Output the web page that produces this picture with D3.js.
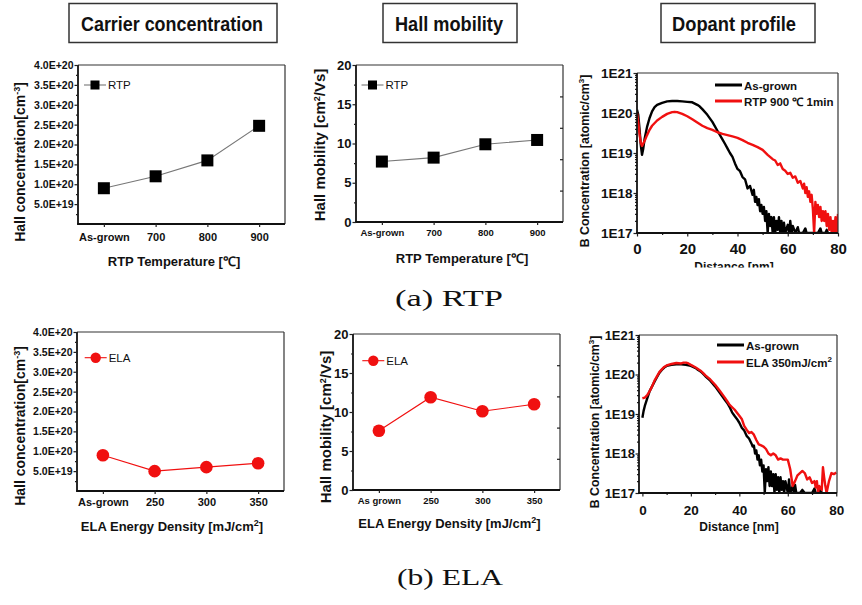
<!DOCTYPE html>
<html><head><meta charset="utf-8">
<script src="https://cdnjs.cloudflare.com/ajax/libs/d3/7.8.5/d3.min.js"></script>
<style>body{margin:0;background:#fff}svg{display:block}text{font-family:"Liberation Sans",Arial,sans-serif;fill:#111}</style>
</head><body><svg id="c" width="862" height="605"></svg>
<script>
// ---------- DATA ----------
const rtpCats = ["As-grown", "700", "800", "900"];
const rtpConc = [0.9e20, 1.2e20, 1.6e20, 2.47e20];
const rtpMob = [7.7, 8.2, 9.9, 10.45];
const elaCats = ["As-grown", "250", "300", "350"];
const elaCatsMob = ["As grown", "250", "300", "350"];
const elaConc = [0.9e20, 0.5e20, 0.6e20, 0.7e20];
const elaMob = [7.6, 11.9, 10.1, 11.0];

const concTicks = [5e19, 1e20, 1.5e20, 2e20, 2.5e20, 3e20, 3.5e20, 4e20];
const concTickLabels = ["5.0E+19", "1.0E+20", "1.5E+20", "2.0E+20", "2.5E+20", "3.0E+20", "3.5E+20", "4.0E+20"];
const concMinor = [2.5e19, 7.5e19, 1.25e20, 1.75e20, 2.25e20, 2.75e20, 3.25e20, 3.75e20];
const mobTicks = [0, 5, 10, 15, 20];
const mobMinor = [2.5, 7.5, 12.5, 17.5];
const mobRightTicks = [4, 8, 12, 16];
const depthTicks = [0, 20, 40, 60, 80];
const depthMinor = [10, 30, 50, 70];
const logTicks = [1e17, 1e18, 1e19, 1e20, 1e21];
const logTickLabels = ["1E17", "1E18", "1E19", "1E20", "1E21"];

const simsRtpAsGrown = [[0,1.2e20],[0.5,9e19],[1,4e19],[1.5,1.6e19],[2,9e18],[2.5,1.3e19],[3,2.2e19],[4,4.5e19],[5,7.5e19],[6,1.1e20],[7,1.4e20],[8,1.6e20],[10,1.8e20],[12,1.95e20],[14,2e20],[16,2e20],[18,1.95e20],[20,1.9e20],[22,1.85e20],[24,1.6e20],[25,1.45e20],[26,1.25e20],[28,9e19],[30,6e19],[32,3.6e19],[34,2.2e19],[35,1.7e19],[36,1.3e19],[37,1e19],[38,8e18],[39,5.5e18],[40,4e18],[41,3.5e18],[42,2.5e18],[43,2.2e18],[44,1.3e18],[45,1.5e18],[46,9e17],[46.5,1.2e18],[47,6e17],[47.5,8e17],[48,5e17],[48.5,7e17],[49,3.5e17],[49.5,5e17],[50,3e17],[50.5,4.5e17],[51,2e17],[51.5,3.5e17],[52,1e17],[52.5,3e17],[53,1.5e17],[53.5,2.5e17],[54,1e17],[54.5,2.5e17],[55,1e17],[55.5,2e17],[56,1.2e17],[56.5,2.5e17],[57,1e17],[57.5,2e17],[58,1e17],[58.5,1.8e17],[59,1e17],[60,1.6e17],[60.5,1e17],[61,2e17],[61.5,1e17],[62,1.5e17],[63,1e17],[64,1.4e17],[64.5,1e17],[66,1e17],[67,1.3e17],[67.5,1e17],[70,1e17],[72,1e17],[73,1.3e17],[73.5,1e17],[75,1e17],[75.5,1.2e17],[76,1e17]];
const simsRtp900 = [[0,1e20],[0.5,6e19],[1,3e19],[1.5,1.8e19],[2,1.5e19],[3,2e19],[4,2.8e19],[5,3.8e19],[6,4.8e19],[8,6.5e19],[10,8e19],[12,9.5e19],[14,1.05e20],[15,1.07e20],[16,1.05e20],[18,9.5e19],[20,8.3e19],[22,7e19],[24,5.8e19],[26,4.8e19],[28,4.2e19],[30,3.8e19],[32,3.3e19],[34,3e19],[36,2.8e19],[38,2.6e19],[40,2.4e19],[42,2.1e19],[44,1.8e19],[46,1.6e19],[48,1.4e19],[50,1.2e19],[52,9e18],[54,7e18],[55,6.5e18],[56,5e18],[57,5.5e18],[58,4e18],[59,3.6e18],[60,3e18],[61,3.2e18],[62,2.4e18],[63,2.6e18],[64,1.8e18],[65,2e18],[66,1.3e18],[66.5,1.7e18],[67,1e18],[67.5,1.4e18],[68,8e17],[68.5,1.1e18],[69,6e17],[69.5,9e17],[70,4e17],[70.5,1e17],[71,6e17],[71.5,3e17],[72,5e17],[72.5,2.5e17],[73,4.5e17],[73.5,2e17],[74,3.5e17],[74.5,2e17],[75,3.5e17],[75.5,1.5e17],[76,3e17],[76.5,1.2e17],[77,2.5e17],[77.5,1e17],[78,2e17],[78.5,1e17],[79,2.5e17],[79.5,1e17],[80,3e17]];
const simsElaAsGrown = [[0,8e18],[0.5,1.2e19],[1,1.6e19],[2,2.5e19],[3,3.8e19],[4,5e19],[5,6.6e19],[6,8.5e19],[7,1.1e20],[8,1.3e20],[9,1.5e20],[10,1.65e20],[12,1.75e20],[14,1.8e20],[16,1.8e20],[18,1.75e20],[20,1.65e20],[22,1.45e20],[23,1.3e20],[24,1.2e20],[25,1.05e20],[26,9e19],[28,7e19],[30,5e19],[32,3.4e19],[34,2.3e19],[35,1.9e19],[36,1.5e19],[37,1.1e19],[38,9e18],[39,7.5e18],[40,6e18],[41,4.5e18],[42,3.8e18],[43,2.8e18],[44,2.4e18],[45,1.8e18],[45.5,1.5e18],[46,1.6e18],[46.5,1e18],[47,1.2e18],[47.5,7e17],[48,9e17],[48.5,5e17],[49,7e17],[49.5,3.5e17],[50,5e17],[50.5,1e17],[51,4e17],[51.5,2e17],[52,4.5e17],[52.5,1.5e17],[53,3.5e17],[53.5,1.5e17],[54,3e17],[54.5,1e17],[55,3e17],[55.5,1.2e17],[56,2.5e17],[56.5,1e17],[57,2.5e17],[57.5,1.2e17],[58,2e17],[58.5,1e17],[59,2e17],[60,1e17],[60.5,2.2e17],[61,1e17],[62,1.5e17],[62.5,1e17],[63,1.6e17],[63.5,1e17],[65,1e17],[66,1.2e17],[67,1e17],[70,1e17],[71,1.3e17],[71.5,1e17],[73,1e17],[73.5,1.3e17],[74,1e17]];
const simsEla350 = [[0,2.5e19],[1,2.6e19],[2,3e19],[3,3.8e19],[4,5e19],[5,7e19],[6,9e19],[7,1.15e20],[8,1.35e20],[9,1.55e20],[10,1.7e20],[12,1.85e20],[14,1.95e20],[16,1.9e20],[17,2e20],[18,2e20],[19,1.9e20],[20,1.75e20],[22,1.5e20],[24,1.25e20],[25,1.1e20],[26,9.5e19],[28,7.5e19],[30,5.5e19],[32,3.8e19],[34,2.6e19],[35,2.1e19],[36,1.7e19],[38,1.3e19],[40,9e18],[41,7.5e18],[42,5e18],[43,4e18],[44,3.3e18],[45,3.5e18],[46,3e18],[47,2.2e18],[48,1.7e18],[49,1.6e18],[50,1.5e18],[51,1.3e18],[52,1e18],[53,9e17],[54,1e18],[55,9e17],[56,7e17],[57,7.5e17],[58,7e17],[59,7e17],[60,7e17],[61,4e17],[62,1.5e17],[63,2e17],[64,2.8e17],[65,3.2e17],[66,3.6e17],[67,3.2e17],[68,2.2e17],[69,2.5e17],[70,1.8e17],[71,2e17],[71.5,1.4e17],[72,2e17],[72.5,1e17],[73,1.5e17],[74,1.2e17],[74.5,4.5e17],[75,2.5e17],[75.5,1.5e17],[76,1e17],[77,2e17],[78,3.2e17],[79,3e17],[80,3.3e17]];

const headers = ["Carrier concentration", "Hall mobility", "Dopant profile"];
const captions = ["(a) RTP", "(b) ELA"];

// ---------- DRAW ----------
const svg = d3.select("#c");
const RED = "#f01010";

function styleAxis(sel, fs, bold) {
  sel.select(".domain").remove();
  sel.selectAll(".tick line").attr("stroke", "#222").attr("stroke-width", 1.2);
  sel.selectAll(".tick text").attr("font-size", fs).attr("font-weight", bold ? "bold" : "normal").attr("fill", "#111")
     .attr("font-family", '"Liberation Sans",Arial,sans-serif');
}

function frame(g, o) {
  g.append("line").attr("x1", o.left).attr("x2", o.right).attr("y1", o.top).attr("y2", o.top).attr("stroke", "#333").attr("stroke-width", 1.2);
  g.append("line").attr("x1", o.right).attr("x2", o.right).attr("y1", o.top).attr("y2", o.bottom).attr("stroke", "#333").attr("stroke-width", 1.2);
  g.append("line").attr("x1", o.left).attr("x2", o.left).attr("y1", o.top).attr("y2", o.bottom + 0.8).attr("stroke", "#111").attr("stroke-width", 1.8);
  g.append("line").attr("x1", o.left - 0.8).attr("x2", o.right).attr("y1", o.bottom).attr("y2", o.bottom).attr("stroke", "#111").attr("stroke-width", 1.8);
}

function rotTitle(g, x, y, html, fs) {
  g.append("text").attr("transform", `translate(${x},${y}) rotate(-90)`).attr("text-anchor", "middle")
    .attr("font-size", fs).attr("font-weight", "bold").html(html);
}

function catPanel(o) {
  const g = svg.append("g");
  const x = d3.scalePoint().domain(o.cats).range([o.left, o.right]).padding(0.5);
  const y = d3.scaleLinear().domain(o.yDomain).range([o.bottom, o.top]);
  frame(g, o);
  g.append("g").attr("transform", `translate(${o.left},0)`)
    .call(d3.axisLeft(y).tickValues(o.yMinor).tickSize(2).tickFormat("")).call(s => styleAxis(s, 10, true));
  g.append("g").attr("transform", `translate(${o.left},0)`)
    .call(d3.axisLeft(y).tickValues(o.yTicks).tickSize(3.5).tickPadding(o.yPad).tickFormat((d, i) => o.yLabels[i]))
    .call(s => styleAxis(s, o.yFs, true));
  if (o.rightTicks) {
    g.append("g").attr("transform", `translate(${o.right},0)`)
      .call(d3.axisRight(y).tickValues(o.rightTicks).tickSize(-3).tickFormat("")).call(s => styleAxis(s, 10, false));
  }
  g.append("g").attr("transform", `translate(0,${o.bottom})`)
    .call(d3.axisBottom(x).tickSize(3).tickPadding(o.xPad)).call(s => styleAxis(s, o.xFs, true));
  const line = d3.line().x((d, i) => x(o.cats[i])).y(d => y(d));
  g.append("path").datum(o.values).attr("d", line).attr("fill", "none").attr("stroke", o.lineColor).attr("stroke-width", 1.1);
  if (o.marker === "square") {
    g.selectAll(".m").data(o.values).join("rect").attr("x", (d, i) => x(o.cats[i]) - 6).attr("y", d => y(d) - 6)
      .attr("width", 12).attr("height", 12).attr("fill", "#000");
  } else {
    g.selectAll(".m").data(o.values).join("circle").attr("cx", (d, i) => x(o.cats[i])).attr("cy", d => y(d))
      .attr("r", 6.3).attr("fill", RED);
  }
  // legend
  const L = o.legend;
  g.append("line").attr("x1", L.x - 11).attr("x2", L.x + 11).attr("y1", L.y).attr("y2", L.y).attr("stroke", o.lineColor).attr("stroke-width", 1.1);
  if (o.marker === "square") {
    g.append("rect").attr("x", L.x - 4.5).attr("y", L.y - 4.5).attr("width", 9).attr("height", 9).attr("fill", "#000");
  } else {
    g.append("circle").attr("cx", L.x).attr("cy", L.y).attr("r", 5.2).attr("fill", RED);
  }
  g.append("text").attr("x", L.x + 13).attr("y", L.y + 4).attr("font-size", 11.5).attr("fill", "#444").text(L.text);
  // titles
  g.append("text").attr("x", o.xTitle[0]).attr("y", o.xTitle[1]).attr("text-anchor", "middle")
    .attr("font-size", o.xTitleFs).attr("font-weight", "bold").html(o.xTitleHtml);
  rotTitle(g, o.yTitle[0], o.yTitle[1], o.yTitleHtml, o.yTitleFs);
}

function profilePanel(o, id) {
  const g = svg.append("g");
  const x = d3.scaleLinear().domain(o.xDomain).range([o.left, o.right]);
  const y = d3.scaleLog().domain([1e17, 1e21]).range([o.bottom, o.top]).clamp(true);
  const minor = [];
  [1e17, 1e18, 1e19, 1e20].forEach(d => { for (let k = 2; k <= 9; k++) minor.push(d * k); });
  g.append("g").attr("transform", `translate(${o.left},0)`)
    .call(d3.axisLeft(y).tickValues(minor).tickSize(2).tickFormat("")).call(s => styleAxis(s, 10, true));
  g.append("g").attr("transform", `translate(${o.left},0)`)
    .call(d3.axisLeft(y).tickValues(logTicks).tickSize(3.5).tickPadding(o.yPad).tickFormat((d, i) => logTickLabels[i]))
    .call(s => styleAxis(s, o.yFs, true));
  g.append("g").attr("transform", `translate(0,${o.bottom})`)
    .call(d3.axisBottom(x).tickValues(depthMinor).tickSize(2).tickFormat("")).call(s => styleAxis(s, 10, true));
  g.append("g").attr("transform", `translate(0,${o.bottom})`)
    .call(d3.axisBottom(x).tickValues(depthTicks).tickSize(3.5).tickPadding(o.xPad).tickFormat(d3.format("d")))
    .call(s => styleAxis(s, o.xFs, true));
  svg.append("clipPath").attr("id", "clip" + id).append("rect")
    .attr("x", o.left).attr("y", o.top).attr("width", o.right - o.left).attr("height", o.bottom - o.top);
  const line = d3.line().x(d => x(d[0])).y(d => y(d[1]));
  const cg = g.append("g").attr("clip-path", `url(#clip${id})`);
  cg.append("path").datum(o.black).attr("d", line).attr("fill", "none").attr("stroke", "#000").attr("stroke-width", 2.4).attr("stroke-linejoin", "round");
  cg.append("path").datum(o.red).attr("d", line).attr("fill", "none").attr("stroke", RED).attr("stroke-width", 2.4).attr("stroke-linejoin", "round");
  frame(g, o);
  // legend
  const L = o.legend;
  g.append("line").attr("x1", L.x).attr("x2", L.x + 27).attr("y1", L.y1).attr("y2", L.y1).attr("stroke", "#000").attr("stroke-width", 3);
  g.append("line").attr("x1", L.x).attr("x2", L.x + 27).attr("y1", L.y2).attr("y2", L.y2).attr("stroke", RED).attr("stroke-width", 3);
  g.append("text").attr("x", L.x + 29).attr("y", L.y1 + 4.5).attr("font-size", 11.5).attr("font-weight", "bold").text("As-grown");
  g.append("text").attr("x", L.x + 29).attr("y", L.y2 + 4.5).attr("font-size", 11.5).attr("font-weight", "bold").html(L.redHtml);
  // titles
  const t = g.append("text").attr("x", o.xTitle[0]).attr("y", o.xTitle[1]).attr("text-anchor", "middle")
    .attr("font-size", 12).attr("font-weight", "bold").text("Distance [nm]");
  if (o.xTitleClip) {
    svg.append("clipPath").attr("id", "tclip" + id).append("rect").attr("x", 600).attr("y", 240).attr("width", 262).attr("height", o.xTitleClip - 240);
    t.attr("clip-path", `url(#tclip${id})`);
  }
  rotTitle(g, o.yTitle[0], o.yTitle[1], 'B Concentration [atomic/cm<tspan dy="-5" font-size="8">3</tspan><tspan dy="5">]</tspan>', 12.3);
}

// Headers
const hdr = [
  { bx: 69, bw: 208, tx: 81, tw: 182 },
  { bx: 383, bw: 134, tx: 395, tw: 108 },
  { bx: 661, bw: 154, tx: 672, tw: 124 }
];
hdr.forEach((h, i) => {
  svg.append("rect").attr("x", h.bx).attr("y", 3.5).attr("width", h.bw).attr("height", 39).attr("fill", "#fff").attr("stroke", "#333").attr("stroke-width", 1.5);
  svg.append("text").attr("x", h.tx).attr("y", 31).attr("font-size", 21).attr("font-weight", "bold")
    .attr("textLength", h.tw).attr("lengthAdjust", "spacingAndGlyphs").attr("fill", "#000")
    .style("font-family", '"Liberation Sans Narrow","Liberation Sans",Arial,sans-serif').text(headers[i]);
});

// Captions
[[395, 306, 108], [397, 585, 106]].forEach((c, i) => {
  svg.append("text").attr("x", c[0]).attr("y", c[1]).attr("font-size", 24).attr("textLength", c[2]).attr("lengthAdjust", "spacingAndGlyphs")
    .style("font-family", '"Liberation Serif","DejaVu Serif",serif').attr("fill", "#222").text(captions[i]);
});

const concTitle = 'Hall concentration[cm<tspan dy="-5" font-size="9">-3</tspan><tspan dy="5">]</tspan>';
const mobTitle = 'Hall mobility [cm<tspan dy="-5" font-size="9">2</tspan><tspan dy="5">/Vs]</tspan>';
const elaTitle = 'ELA Energy Density [mJ/cm<tspan dy="-5" font-size="9">2</tspan><tspan dy="5">]</tspan>';

catPanel({ left: 78, right: 285, top: 65, bottom: 224, cats: rtpCats, values: rtpConc, yDomain: [0, 4e20],
  yTicks: concTicks, yLabels: concTickLabels, yMinor: concMinor, yFs: 10.5, yPad: 1, xFs: 11, xPad: 6,
  marker: "square", lineColor: "#777", legend: { x: 95, y: 85, text: "RTP" },
  xTitle: [174, 266], xTitleHtml: "RTP Temperature [℃]", xTitleFs: 13, yTitle: [25, 162], yTitleHtml: concTitle, yTitleFs: 14 });

catPanel({ left: 356, right: 563, top: 65, bottom: 222, cats: rtpCats, values: rtpMob, yDomain: [0, 20],
  yTicks: mobTicks, yLabels: mobTicks.map(String), yMinor: mobMinor, rightTicks: mobRightTicks, yFs: 13, yPad: 1, xFs: 9.5, xPad: 4,
  marker: "square", lineColor: "#777", legend: { x: 372.5, y: 85, text: "RTP" },
  xTitle: [462, 263], xTitleHtml: "RTP Temperature [℃]", xTitleFs: 13, yTitle: [325, 145], yTitleHtml: mobTitle, yTitleFs: 15 });

catPanel({ left: 77, right: 284, top: 332, bottom: 491, cats: elaCats, values: elaConc, yDomain: [0, 4e20],
  yTicks: concTicks, yLabels: concTickLabels, yMinor: concMinor, yFs: 10.5, yPad: 1, xFs: 11, xPad: 4,
  marker: "circle", lineColor: RED, legend: { x: 95.7, y: 357.7, text: "ELA" },
  xTitle: [172, 531], xTitleHtml: elaTitle, xTitleFs: 13, yTitle: [25, 426], yTitleHtml: concTitle, yTitleFs: 14 });

catPanel({ left: 353, right: 560, top: 334, bottom: 490, cats: elaCatsMob, values: elaMob, yDomain: [0, 20],
  yTicks: mobTicks, yLabels: mobTicks.map(String), yMinor: mobMinor, rightTicks: mobRightTicks, yFs: 13, yPad: 1, xFs: 9.5, xPad: 4,
  marker: "circle", lineColor: RED, legend: { x: 373.3, y: 360.7, text: "ELA" },
  xTitle: [449.5, 528], xTitleHtml: elaTitle, xTitleFs: 13, yTitle: [331, 427], yTitleHtml: mobTitle, yTitleFs: 15 });

profilePanel({ left: 637, right: 838, top: 73, bottom: 233, xDomain: [0, 80], yFs: 13.5, yPad: 1, xFs: 15, xPad: 7,
  black: simsRtpAsGrown, red: simsRtp900, legend: { x: 715, y1: 85, y2: 101, redHtml: "RTP 900 ℃ 1min" },
  xTitle: [734, 271], xTitleClip: 267.5, yTitle: [589, 161] }, 1);

profilePanel({ left: 639, right: 837, top: 335, bottom: 493, xDomain: [-1.4, 80.3], yFs: 13, yPad: 0.5, xFs: 13.5, xPad: 9,
  black: simsElaAsGrown, red: simsEla350, legend: { x: 717, y1: 345, y2: 362, redHtml: 'ELA 350mJ/cm<tspan dy="-5" font-size="8">2</tspan>' },
  xTitle: [739, 531], yTitle: [599, 422] }, 2);
</script></body></html>
